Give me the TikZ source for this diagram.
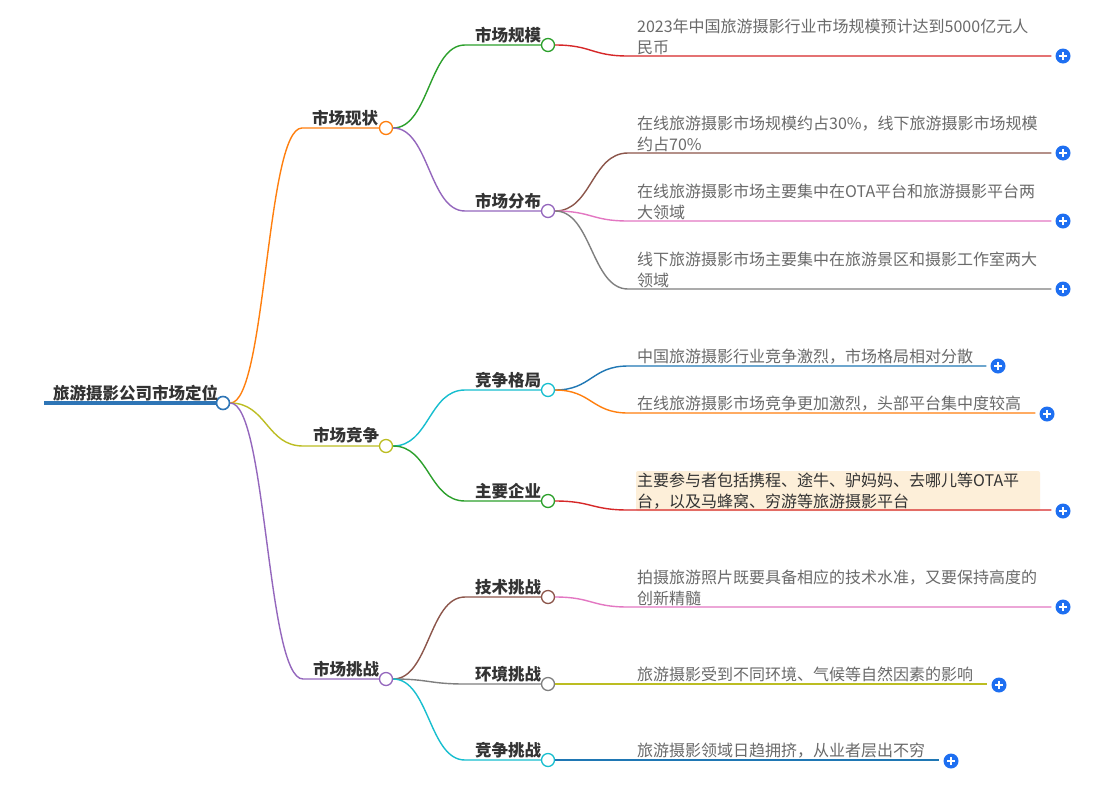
\documentclass[tikz,border=0pt]{standalone}
\usepackage{fontspec}
\setmainfont{Noto Sans CJK SC}
\usetikzlibrary{calc}
\definecolor{cRoot}{HTML}{2E75B6}
\definecolor{cBlue}{HTML}{1F77B4}
\definecolor{cOrange}{HTML}{FF7F0E}
\definecolor{cGreen}{HTML}{2CA02C}
\definecolor{cRed}{HTML}{D62728}
\definecolor{cPurple}{HTML}{9467BD}
\definecolor{cBrown}{HTML}{8C564B}
\definecolor{cPink}{HTML}{E377C2}
\definecolor{cGray}{HTML}{7F7F7F}
\definecolor{cOlive}{HTML}{BCBD22}
\definecolor{cCyan}{HTML}{17BECF}
\definecolor{labtext}{HTML}{333333}
\definecolor{leaftext}{HTML}{6A6A6A}
\definecolor{btnblue}{HTML}{1E6FF1}
\definecolor{hilite}{HTML}{FDEFD9}
\begin{document}
\begin{tikzpicture}[x=1pt,y=-1pt,
  knob/.style={circle, draw=#1, fill=white, line width=1.3pt, minimum size=13pt, inner sep=0pt},
  wire/.style={draw=#1, line width=1.4pt},
  lbl/.style={anchor=base west, inner sep=0pt, text=labtext, font=\fontsize{16.5}{20}\selectfont\bfseries},
  leaftxt/.style={anchor=base west, inner sep=0pt, align=left, text=leaftext, font=\fontsize{16}{20.5}\selectfont},
  addbtn/.style={circle, fill=btnblue, minimum size=15pt, inner sep=0pt,
    path picture={\draw[white, line width=1.7pt]
      ([xshift=-4pt]path picture bounding box.center) -- ([xshift=4pt]path picture bounding box.center)
      ([yshift=-4pt]path picture bounding box.center) -- ([yshift=4pt]path picture bounding box.center);}},
  curvy/.style={to path={let \p1=(\tikztostart), \p2=(\tikztotarget) in
     .. controls ({0.5*\x1+0.5*\x2},\y1) and ({0.5*\x1+0.5*\x2},\y2) .. (\tikztotarget)}}]
\useasboundingbox[fill=white] (0,0) rectangle (1118,785);

% highlight behind the main-companies leaf
\fill[hilite, rounded corners=2pt] (636,471) rectangle (1040,511);

% ---------- root ----------
\node[knob=cRoot, line width=1.6pt] (r) at (223,403) {};
\coordinate (rs) at (44,403);
\draw[cRoot, line width=4pt] (rs) -- (r.west);
\node[lbl] (rt) at (53,399.5) {旅游摄影公司市场定位};

% ---------- level 1 ----------
\node[knob=cOrange] (a1) at (386,128) {};
\coordinate (a1s) at (302,128);
\node[lbl] (a1t) at (312,124) {市场现状};
\draw[wire=cOrange] (r.east) to[curvy] (a1s) -- (a1.west);

\node[knob=cOlive] (a2) at (386,446) {};
\coordinate (a2s) at (303,446);
\node[lbl] (a2t) at (313,441.5) {市场竞争};
\draw[wire=cOlive] (r.east) to[curvy] (a2s) -- (a2.west);

\node[knob=cPurple] (a3) at (386,679) {};
\coordinate (a3s) at (303,679);
\node[lbl] (a3t) at (313,675) {市场挑战};
\draw[wire=cPurple] (r.east) to[curvy] (a3s) -- (a3.west);

% ---------- level 2 ----------
\node[knob=cGreen] (b1) at (548,45) {};
\coordinate (b1s) at (465,45);
\node[lbl] (b1t) at (475,41.5) {市场规模};
\draw[wire=cGreen] (a1.east) to[curvy] (b1s) -- (b1.west);

\node[knob=cPurple] (b2) at (548,211) {};
\coordinate (b2s) at (465,211);
\node[lbl] (b2t) at (475,207) {市场分布};
\draw[wire=cPurple] (a1.east) to[curvy] (b2s) -- (b2.west);

\node[knob=cCyan] (b3) at (548,390) {};
\coordinate (b3s) at (465,390);
\node[lbl] (b3t) at (475,386) {竞争格局};
\draw[wire=cCyan] (a2.east) to[curvy] (b3s) -- (b3.west);

\node[knob=cGreen] (b4) at (548,501) {};
\coordinate (b4s) at (465,501);
\node[lbl] (b4t) at (475,497) {主要企业};
\draw[wire=cGreen] (a2.east) to[curvy] (b4s) -- (b4.west);

\node[knob=cBrown] (b5) at (548,597) {};
\coordinate (b5s) at (465,597);
\node[lbl] (b5t) at (475,593) {技术挑战};
\draw[wire=cBrown] (a3.east) to[curvy] (b5s) -- (b5.west);

\node[knob=cGray] (b6) at (548,684) {};
\coordinate (b6s) at (465,684);
\node[lbl] (b6t) at (475,680) {环境挑战};
\draw[wire=cGray] (a3.east) to[curvy] (b6s) -- (b6.west);

\node[knob=cCyan] (b7) at (548,760) {};
\coordinate (b7s) at (465,760);
\node[lbl] (b7t) at (475,756) {竞争挑战};
\draw[wire=cCyan] (a3.east) to[curvy] (b7s) -- (b7.west);

% ---------- leaves ----------
\node[addbtn] (p1) at (1063,56) {};
\coordinate (l1s) at (628,56);
\node[leaftxt] (t1) at (637,53) {2023年中国旅游摄影行业市场规模预计达到5000亿元人\\民币};
\draw[wire=cRed] (b1.east) to[curvy] (l1s) -- ([xshift=-4pt]p1.west);

\node[addbtn] (p2) at (1063,153) {};
\coordinate (l2s) at (628,153);
\node[leaftxt] (t2) at (637,150) {在线旅游摄影市场规模约占30\%，线下旅游摄影市场规模\\约占70\%};
\draw[wire=cBrown] (b2.east) to[curvy] (l2s) -- ([xshift=-4pt]p2.west);

\node[addbtn] (p3) at (1063,221) {};
\coordinate (l3s) at (628,221);
\node[leaftxt] (t3) at (637,218) {在线旅游摄影市场主要集中在OTA平台和旅游摄影平台两\\大领域};
\draw[wire=cPink] (b2.east) to[curvy] (l3s) -- ([xshift=-4pt]p3.west);

\node[addbtn] (p4) at (1063,289) {};
\coordinate (l4s) at (628,289);
\node[leaftxt] (t4) at (637,286) {线下旅游摄影市场主要集中在旅游景区和摄影工作室两大\\领域};
\draw[wire=cGray] (b2.east) to[curvy] (l4s) -- ([xshift=-4pt]p4.west);

\node[addbtn] (p5) at (998,366) {};
\coordinate (l5s) at (628,366);
\node[leaftxt] (t5) at (637,362.5) {中国旅游摄影行业竞争激烈，市场格局相对分散};
\draw[wire=cBlue] (b3.east) to[curvy] (l5s) -- ([xshift=-4pt]p5.west);

\node[addbtn] (p6) at (1047,414) {};
\coordinate (l6s) at (628,413);
\node[leaftxt] (t6) at (637,409.5) {在线旅游摄影市场竞争更加激烈，头部平台集中度较高};
\draw[wire=cOrange] (b3.east) to[curvy] (l6s) -- ([xshift=-4pt]p6.west |- l6s);

\node[addbtn] (p7) at (1063,511) {};
\coordinate (l7s) at (628,510);
\node[leaftxt, text=labtext] (t7) at (637,507) {主要参与者包括携程、途牛、驴妈妈、去哪儿等OTA平\\台，以及马蜂窝、穷游等旅游摄影平台};
\draw[wire=cRed] (b4.east) to[curvy] (l7s) -- ([xshift=-4pt]p7.west |- l7s);

\node[addbtn] (p8) at (1063,607) {};
\coordinate (l8s) at (628,607);
\node[leaftxt] (t8) at (637,604) {拍摄旅游照片既要具备相应的技术水准，又要保持高度的\\创新精髓};
\draw[wire=cPink] (b5.east) to[curvy] (l8s) -- ([xshift=-4pt]p8.west);

\node[addbtn] (p9) at (999,685) {};
\coordinate (l9s) at (628,684);
\node[leaftxt] (t9) at (637,680.5) {旅游摄影受到不同环境、气候等自然因素的影响};
\draw[wire=cOlive] (b6.east) to[curvy] (l9s) -- ([xshift=-4pt]p9.west |- l9s);

\node[addbtn] (p10) at (951,761) {};
\coordinate (l10s) at (628,760);
\node[leaftxt] (t10) at (637,756.5) {旅游摄影领域日趋拥挤，从业者层出不穷};
\draw[wire=cBlue] (b7.east) to[curvy] (l10s) -- ([xshift=-4pt]p10.west |- l10s);
\end{tikzpicture}
\end{document}
